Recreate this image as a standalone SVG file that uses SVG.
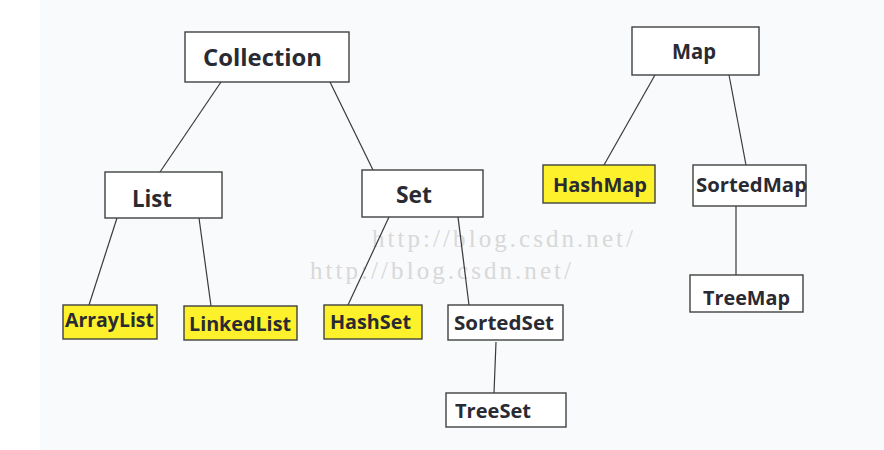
<svg xmlns="http://www.w3.org/2000/svg" width="884" height="450" viewBox="0 0 884 450">
<style>
.box{fill:#ffffff;stroke:#404040;stroke-width:1.4}
.hl{fill:#fdf12b;stroke:#404040;stroke-width:1.4}
.lbl{font-family:"Open Sans","Noto Sans",sans-serif;font-weight:bold;fill:#2a2a33}
.big{font-size:23px}
.sm{font-size:19px}
.wm{font-family:"Liberation Serif",serif;font-size:25px;fill:#d8d8d8}
.edges line{stroke:#3a3a3a;stroke-width:1.2}
</style>
<rect x="0" y="0" width="884" height="450" fill="#ffffff"/>
<rect x="40" y="0" width="844" height="450" fill="#f9fafc"/>
<g id="watermarks">
<text class="wm" x="372" y="247" textLength="261" lengthAdjust="spacing">http://blog.csdn.net/</text>
<text class="wm" x="310" y="279" textLength="261" lengthAdjust="spacing">http://blog.csdn.net/</text>
</g>
<g class="edges" id="connectors">
<line x1="221" y1="82" x2="160" y2="172"/>
<line x1="330" y1="82" x2="373" y2="170"/>
<line x1="117" y1="218" x2="89" y2="305"/>
<line x1="199" y1="218" x2="211" y2="306"/>
<line x1="389" y1="217" x2="348" y2="305"/>
<line x1="458" y1="217" x2="469" y2="305"/>
<line x1="496" y1="342" x2="494" y2="393"/>
<line x1="655" y1="75" x2="604" y2="165"/>
<line x1="729" y1="75" x2="746" y2="165"/>
<line x1="736" y1="206" x2="736" y2="275"/>
</g>
<g id="node-collection">
<rect class="box" x="185" y="32" width="164" height="50"/>
<text class="lbl" x="203" y="66" font-size="24" textLength="119" lengthAdjust="spacingAndGlyphs">Collection</text>
</g>
<g id="node-list">
<rect class="box" x="105" y="172" width="117" height="46"/>
<text class="lbl" x="132" y="207" font-size="24" textLength="40" lengthAdjust="spacingAndGlyphs">List</text>
</g>
<g id="node-set">
<rect class="box" x="362" y="170" width="121" height="47"/>
<text class="lbl big" x="396" y="203" textLength="36" lengthAdjust="spacingAndGlyphs">Set</text>
</g>
<g id="node-arraylist">
<rect class="hl" x="63" y="305" width="94" height="34"/>
<text class="lbl sm" x="65" y="327" textLength="89" lengthAdjust="spacingAndGlyphs">ArrayList</text>
</g>
<g id="node-linkedlist">
<rect class="hl" x="184" y="306" width="113" height="34"/>
<text class="lbl sm" x="189" y="331" textLength="102" lengthAdjust="spacingAndGlyphs">LinkedList</text>
</g>
<g id="node-hashset">
<rect class="hl" x="324" y="305" width="98" height="34"/>
<text class="lbl sm" x="330" y="329" textLength="81" lengthAdjust="spacingAndGlyphs">HashSet</text>
</g>
<g id="node-sortedset">
<rect class="box" x="448" y="305" width="115" height="35"/>
<text class="lbl sm" x="454" y="330" textLength="100" lengthAdjust="spacingAndGlyphs">SortedSet</text>
</g>
<g id="node-treeset">
<rect class="box" x="446" y="393" width="120" height="34"/>
<text class="lbl sm" x="455" y="418" textLength="76" lengthAdjust="spacingAndGlyphs">TreeSet</text>
</g>
<g id="node-map">
<rect class="box" x="632" y="27" width="127" height="48"/>
<text class="lbl" x="672" y="59" font-size="21" textLength="44" lengthAdjust="spacingAndGlyphs">Map</text>
</g>
<g id="node-hashmap">
<rect class="hl" x="543" y="165" width="112" height="38"/>
<text class="lbl sm" x="553" y="192" textLength="94" lengthAdjust="spacingAndGlyphs">HashMap</text>
</g>
<g id="node-sortedmap">
<rect class="box" x="693" y="165" width="113" height="41"/>
<text class="lbl sm" x="696" y="192" textLength="111" lengthAdjust="spacingAndGlyphs">SortedMap</text>
</g>
<g id="node-treemap">
<rect class="box" x="690" y="275" width="113" height="37"/>
<text class="lbl sm" x="703" y="305" textLength="87" lengthAdjust="spacingAndGlyphs">TreeMap</text>
</g>
</svg>
